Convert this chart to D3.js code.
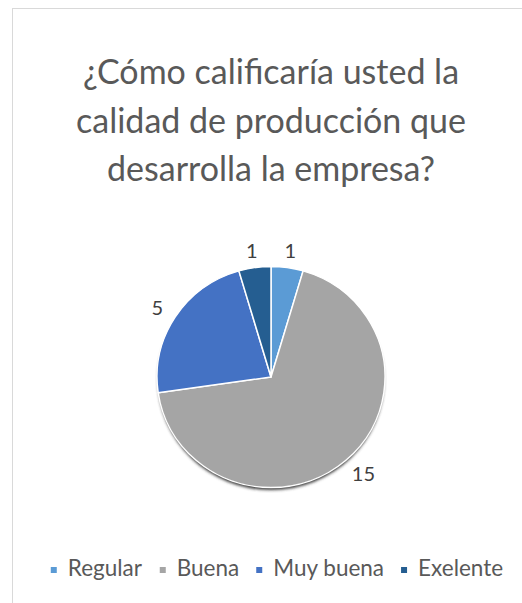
<!DOCTYPE html>
<html>
<head>
<meta charset="utf-8">
<script src="https://cdn.jsdelivr.net/npm/d3@7"></script>
<style>
	body { margin: 0; background: #fff; }
	svg text { font-family: Lato, "Open Sans", sans-serif; }
</style>
</head>
<body>
<svg id="chart"></svg>
<script>
const titleLines	= ['¿Cómo calificaría usted la', 'calidad de producción que', 'desarrolla la empresa?'];
const categories	= ['Regular', 'Buena', 'Muy buena', 'Exelente'];
const values		= [1, 15, 5, 1];
const colors		= ['#5B9BD5', '#A5A5A5', '#4472C4', '#255E91'];

let canvasWidth		= 522;
let canvasHeight	= 603;

let cx = 271, cy = 377;
let radius = 114, squash = 0.97;

let svg = d3.select('#chart')
	.attr('width', canvasWidth)
	.attr('height', canvasHeight);

// chart area border (runs past the right and bottom edge of the picture)
svg.append('rect')
	.attr('x', 12.5).attr('y', 8.5)
	.attr('width', 530).attr('height', 620)
	.attr('fill', '#fff')
	.attr('stroke', '#D9D9D9');

// title
svg.append('g').selectAll('text').data(titleLines).enter()
	.append('text')
		.attr('x', 271)
		.attr('y', (o, i) => 84 + i * 48.5)
		.attr('text-anchor', 'middle')
		.attr('fill', '#595959')
		.attr('font-size', 34)
		.text((o) => o);

let defs = svg.append('defs');
defs.append('filter').attr('id', 'shadow')
	.attr('x', '-10%').attr('y', '-10%').attr('width', '120%').attr('height', '120%')
	.append('feGaussianBlur').attr('stdDeviation', 1.4);

let pie = d3.pie().sort(null).value((o) => o);
let arcs = pie(values);
let arc = d3.arc().innerRadius(0).outerRadius(radius);

let pieG = svg.append('g')
	.attr('transform', 'translate(' + cx + ',' + cy + ') scale(1,' + squash + ')');

// soft shadow under the pie
pieG.append('circle')
	.attr('cx', 0).attr('cy', 3.5)
	.attr('r', radius - 1)
	.attr('fill', '#3a3a3a')
	.attr('filter', 'url(#shadow)');

pieG.selectAll('path.slice').data(arcs).enter()
	.append('path')
		.attr('class', 'slice')
		.attr('d', arc)
		.attr('fill', (o, i) => colors[i])
		.attr('stroke', '#fff')
		.attr('stroke-width', 1.5)
		.attr('stroke-linejoin', 'round');

// data labels: label box sits just outside the slice end
let gap = 5.5, padX = 10;
let labels = svg.append('g').selectAll('text').data(arcs).enter()
	.append('text')
		.attr('text-anchor', 'middle')
		.attr('dy', '0.36em')
		.attr('fill', '#404040')
		.attr('font-size', 20)
		.text((o) => o.data);

labels.attr('transform', function (o) {
	let a = (o.startAngle + o.endAngle) / 2;
	let s = Math.sin(a), c = Math.cos(a);
	let b = this.getBBox();
	let px = cx + s * (radius + gap) + s * (b.width / 2 + padX);
	let py = cy - c * (radius + gap) * squash - c * (b.height / 2);
	return 'translate(' + px + ',' + py + ')';
});

// legend
let legend = svg.append('g');
let items = legend.selectAll('g').data(categories).enter().append('g');
items.append('rect')
	.attr('width', 6).attr('height', 6)
	.attr('y', -9)
	.attr('fill', (o, i) => colors[i]);
items.append('text')
	.attr('x', 17)
	.attr('fill', '#595959')
	.attr('font-size', 22.5)
	.text((o) => o);

let xPos = 0;
items.each(function () {
	let w = this.getBBox().width;
	d3.select(this).attr('transform', 'translate(' + xPos + ',0)');
	xPos += w + 17;
});
let legendWidth = xPos - 17;
legend.attr('transform', 'translate(' + (277 - legendWidth / 2) + ',576)');
</script>
</body>
</html>
